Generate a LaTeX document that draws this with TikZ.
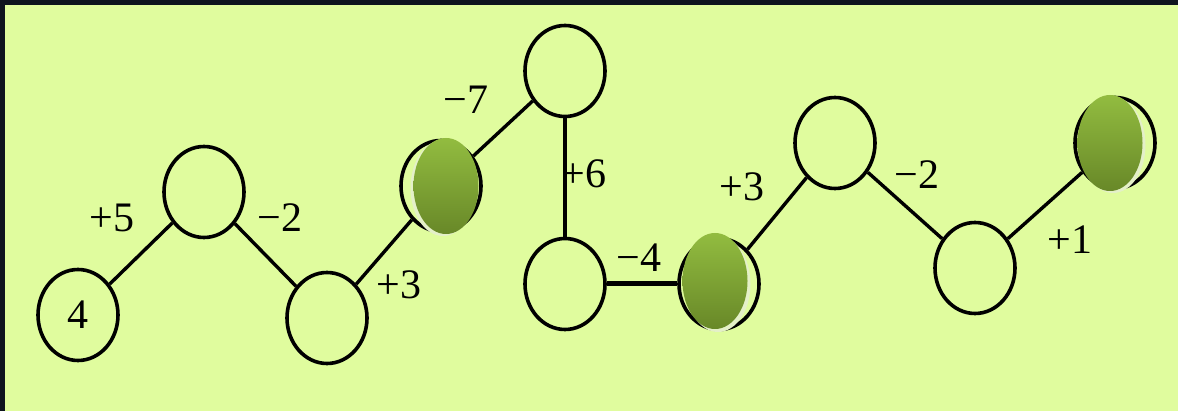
\documentclass[tikz,border=0pt]{standalone}
\usepackage{fontspec}
\setmainfont{Liberation Serif}
\usetikzlibrary{shapes.geometric}
\definecolor{FrameClr}{RGB}{14,20,30}
\definecolor{PaperClr}{RGB}{224,252,158}
\definecolor{EggTopClr}{RGB}{146,188,64}
\definecolor{EggBotClr}{RGB}{104,136,40}
\definecolor{RimClr}{RGB}{228,240,200}

\begin{document}
\begin{tikzpicture}[x=1pt,y=-1pt,
  ring/.style={ellipse,draw=black,line width=3.6pt,inner sep=0pt,
    minimum width=80pt,minimum height=91pt,
    font=\fontsize{42}{46}\selectfont},
  bond/.style={line width=3.4pt,black},
  egg/.style={ellipse,inner sep=0pt,minimum width=65pt,minimum height=96pt,
    top color=EggTopClr,bottom color=EggBotClr},
  rim/.style={ellipse,inner sep=0pt,minimum width=65pt,minimum height=96pt,fill=RimClr},
  step label/.style={font=\fontsize{42}{46}\selectfont,inner sep=0pt}]

\useasboundingbox (0,0) rectangle (1178,411);
\fill[FrameClr] (0,0) rectangle (1178,411);
\fill[PaperClr] (5,5) rectangle (1178,411);

% circles
\node[ring] (n1) at (78,315) {4};
\node[ring] (n2) at (204,192) {};
\node[ring] (n3) at (327,318) {};
\node[ring] (n4) at (441,186) {};
\node[ring] (n5) at (565,71) {};
\node[ring] (n6) at (565,284) {};
\node[ring] (n7) at (719,284) {};
\node[ring] (n8) at (835,143) {};
\node[ring] (n9) at (975,268) {};
\node[ring] (n10) at (1115,143) {};

% jumps
\draw[bond] (n1) -- (n2);
\draw[bond] (n2) -- (n3);
\draw[bond] (n3) -- (n4);
\draw[bond] (n4) -- (n5);
\draw[bond] (n5) -- (n6);
\draw[bond,line width=5pt] (n6) -- (n7);
\draw[bond] (n7) -- (n8);
\draw[bond] (n8) -- (n9);
\draw[bond] (n9) -- (n10);

% green marks
\node[rim] (r4) at (443,188) {};
\node[egg] (g4) at (446,186) {};
\node[rim] (r7) at (718,284) {};
\node[egg] (g7) at (715,281) {};
\node[rim] (r10) at (1113,145) {};
\node[egg] (g10) at (1110,143) {};

% steps
\node[step label] (s1) at (112,218) {+5};
\node[step label] (s2) at (280,218) {−2};
\node[step label] (s3) at (399,285) {+3};
\node[step label] (s4) at (466,100) {−7};
\node[step label] (s5) at (584,174) {+6};
\node[step label] (s6) at (639,258) {−4};
\node[step label] (s7) at (742,187) {+3};
\node[step label] (s8) at (917,175) {−2};
\node[step label] (s9) at (1070,240) {+1};

\end{tikzpicture}
\end{document}
